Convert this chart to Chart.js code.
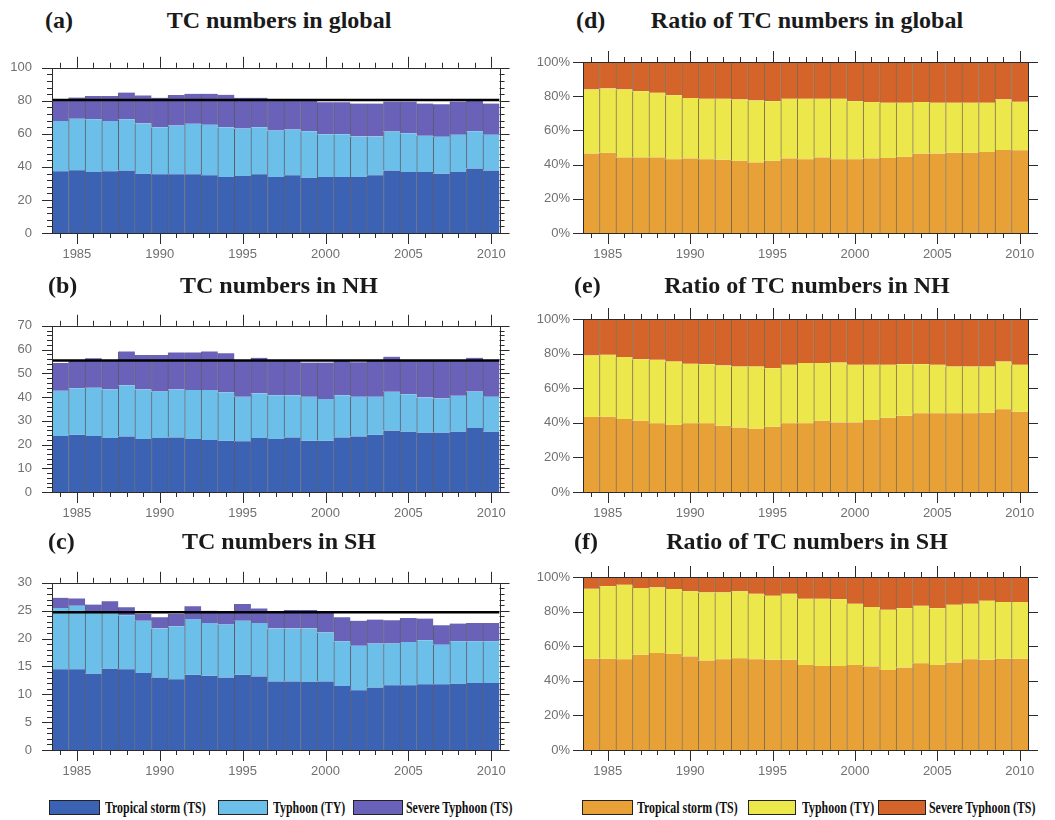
<!DOCTYPE html>
<html>
<head>
<meta charset="utf-8">
<title>TC numbers and ratios, 1984-2010</title>
<script src="https://cdn.jsdelivr.net/npm/chart.js@4.4.1/dist/chart.umd.min.js"></script>
<style>
  html, body { margin: 0; padding: 0; background: #fff; }
  #fig { position: relative; width: 1055px; height: 820px; background: #fff; overflow: hidden; }
  #fig canvas { position: absolute; }
  .tag, .ttl {
    position: absolute; z-index: 2; white-space: nowrap; color: #1a1a1a;
    font-family: 'Liberation Serif', 'Times New Roman', serif; font-weight: bold;
    font-size: 24px; line-height: 24px;
  }
  .ttl { transform: translateX(-50%); }
  .box { position: absolute; z-index: 2; height: 15px; border: 1.5px solid #222; box-sizing: border-box; }
  .lt {
    position: absolute; z-index: 2; white-space: nowrap; color: #111;
    font-family: 'Liberation Serif', 'Times New Roman', serif; font-weight: bold;
    font-size: 17px; line-height: 17px; transform-origin: 0 50%; transform: scaleX(0.7);
  }
</style>
</head>
<body>
<div id="fig">
  <canvas id="cGlobal"></canvas>
  <canvas id="cNH"></canvas>
  <canvas id="cSH"></canvas>
  <canvas id="rGlobal"></canvas>
  <canvas id="rNH"></canvas>
  <canvas id="rSH"></canvas>

  <div class="tag" style="left:45px;top:8px">(a)</div>
  <div class="ttl" style="left:279px;top:8px">TC numbers in global</div>
  <div class="tag" style="left:48px;top:273px">(b)</div>
  <div class="ttl" style="left:279px;top:273px">TC numbers in NH</div>
  <div class="tag" style="left:48px;top:529px">(c)</div>
  <div class="ttl" style="left:279px;top:529px">TC numbers in SH</div>

  <div class="tag" style="left:576px;top:8px">(d)</div>
  <div class="ttl" style="left:807px;top:8px">Ratio of TC numbers in global</div>
  <div class="tag" style="left:574px;top:273px">(e)</div>
  <div class="ttl" style="left:807px;top:273px">Ratio of TC numbers in NH</div>
  <div class="tag" style="left:574px;top:529px">(f)</div>
  <div class="ttl" style="left:807px;top:529px">Ratio of TC numbers in SH</div>

  <div id="legendCount"></div>
  <div id="legendRatio"></div>
</div>

<script>
// ---- data -------------------------------------------------------------
const years = [1984, 1985, 1986, 1987, 1988, 1989, 1990, 1991, 1992, 1993,
               1994, 1995, 1996, 1997, 1998, 1999, 2000, 2001, 2002, 2003,
               2004, 2005, 2006, 2007, 2008, 2009, 2010];

const seriesNames = ['Tropical storm (TS)', 'Typhoon (TY)', 'Severe Typhoon (TS)'];

// annual numbers, global
const tsGlobal = [37.4, 38.0, 37.0, 37.4, 37.8, 35.9, 35.5, 35.5, 35.5, 34.9, 33.9, 34.5, 35.5, 33.9,
                  35.0, 33.5, 33.9, 33.9, 33.9, 34.9, 37.8, 37.0, 37.0, 36.0, 37.0, 39.0, 37.8];
const tyGlobal = [30.4, 31.2, 31.8, 30.4, 31.0, 30.4, 28.5, 29.5, 30.6, 30.6, 30.1, 28.7, 28.5, 28.1,
                  27.6, 28.1, 25.9, 25.9, 24.5, 23.5, 23.6, 23.4, 21.8, 22.2, 22.4, 22.6, 21.6];
const stGlobal = [13.0, 12.8, 14.2, 15.2, 16.2, 17.0, 17.8, 18.5, 18.2, 18.8, 19.7, 18.6, 17.8, 18.8,
                  17.8, 18.4, 19.4, 19.4, 20.0, 20.0, 18.2, 19.2, 19.6, 19.7, 20.2, 18.5, 19.0];

// annual numbers, northern hemisphere
const tsNH = [23.6, 24.1, 23.6, 22.7, 23.4, 22.3, 22.7, 23.0, 22.3, 21.9, 21.6, 21.4, 22.7, 22.3,
              23.0, 21.6, 21.6, 23.0, 23.4, 24.1, 25.9, 25.4, 25.0, 25.0, 25.4, 27.0, 25.4];
const tyNH = [19.0, 19.6, 20.3, 20.5, 21.6, 20.9, 19.6, 20.2, 20.7, 21.1, 20.4, 18.7, 18.8, 18.5,
              17.8, 18.5, 17.6, 17.8, 16.7, 16.0, 16.3, 15.8, 14.8, 14.4, 15.1, 15.3, 14.7];
const stNH = [11.7, 11.6, 12.4, 12.2, 14.2, 14.5, 15.4, 15.6, 15.8, 16.2, 16.4, 15.1, 15.0, 14.7,
              14.5, 14.4, 15.3, 14.5, 14.5, 15.2, 14.8, 14.3, 15.5, 15.8, 14.9, 14.2, 15.5];

// annual numbers, southern hemisphere
const tsSH = [14.5, 14.5, 13.7, 14.6, 14.5, 13.8, 13.0, 12.7, 13.5, 13.3, 13.0, 13.5, 13.2, 12.3,
              12.3, 12.2, 12.3, 11.5, 10.7, 11.2, 11.6, 11.6, 11.8, 11.8, 11.9, 12.0, 12.0];
const tySH = [11.0, 11.4, 11.1, 10.2, 9.7, 9.4, 8.8, 9.5, 10.0, 9.5, 9.5, 9.7, 9.6, 9.5,
              9.5, 9.6, 8.8, 8.0, 8.0, 7.9, 7.5, 7.8, 7.9, 7.1, 7.6, 7.5, 7.5];
const stSH = [1.8, 1.3, 1.3, 1.9, 1.4, 1.2, 2.0, 2.2, 2.3, 2.2, 2.4, 3.0, 2.6, 3.0,
              3.3, 3.3, 3.8, 4.3, 4.5, 4.3, 4.2, 4.3, 3.9, 3.5, 3.2, 3.3, 3.3];

// mean total number per year (horizontal reference line)
const meanGlobal = 80.5;
const meanNH = 55.4;
const meanSH = 24.7;

// shares in percent, global
const tsGlobalPct = [46.5, 46.9, 44.2, 44.2, 44.2, 43.2, 43.6, 43.2, 42.8, 42.2, 41.3, 42.2, 43.6, 43.2,
                     44.2, 43.2, 43.2, 43.6, 43.8, 44.6, 46.5, 46.5, 46.9, 46.9, 47.3, 48.6, 48.4];
const tyGlobalPct = [37.4, 37.6, 39.7, 38.7, 37.8, 37.4, 35.4, 35.3, 35.7, 35.9, 36.2, 34.9, 34.9, 35.3,
                     34.3, 35.3, 33.9, 33.0, 32.4, 31.6, 30.1, 29.7, 29.3, 29.3, 28.9, 29.5, 28.3];
const stGlobalPct = [16.1, 15.5, 16.1, 17.1, 18.0, 19.4, 21.0, 21.5, 21.5, 21.9, 22.5, 22.9, 21.5, 21.5,
                     21.5, 21.5, 22.9, 23.4, 23.8, 23.8, 23.4, 23.8, 23.8, 23.8, 23.8, 21.9, 23.3];

// shares in percent, northern hemisphere
const tsNHPct = [43.3, 43.5, 42.2, 41.2, 39.7, 38.7, 39.7, 39.7, 38.3, 37.3, 36.6, 37.7, 39.7, 39.7,
                 41.2, 40.2, 40.2, 41.6, 42.9, 44.1, 45.5, 45.5, 45.5, 45.5, 45.8, 47.8, 46.4];
const tyNHPct = [35.6, 35.8, 35.8, 35.6, 36.7, 36.7, 34.4, 34.2, 34.8, 35.2, 35.9, 33.9, 33.8, 34.8,
                 33.3, 34.6, 33.3, 31.9, 30.6, 29.8, 28.4, 28.0, 27.0, 27.0, 26.7, 27.6, 27.1];
const stNHPct = [21.1, 20.7, 22.0, 23.2, 23.6, 24.6, 25.9, 26.1, 26.9, 27.5, 27.5, 28.4, 26.5, 25.5,
                 25.5, 25.2, 26.5, 26.5, 26.5, 26.1, 26.1, 26.5, 27.5, 27.5, 27.5, 24.6, 26.5];

// shares in percent, southern hemisphere
const tsSHPct = [52.7, 52.7, 52.5, 55.0, 56.0, 55.6, 54.1, 51.7, 52.5, 53.1, 52.5, 52.1, 52.1, 49.2,
                 48.6, 48.6, 49.2, 48.3, 46.3, 47.7, 50.2, 49.2, 50.6, 52.5, 52.1, 52.7, 52.7];
const tySHPct = [40.5, 41.9, 43.0, 38.6, 38.0, 37.4, 37.6, 39.4, 38.6, 38.6, 37.8, 37.1, 38.2, 38.2,
                 38.8, 38.6, 35.3, 34.3, 34.8, 34.3, 33.2, 32.8, 33.4, 32.0, 34.2, 32.8, 32.8];
const stSHPct = [6.8, 5.4, 4.5, 6.4, 6.0, 7.0, 8.3, 8.9, 8.9, 8.3, 9.7, 10.8, 9.7, 12.6,
                 12.6, 12.8, 15.5, 17.4, 18.9, 18.0, 16.6, 18.0, 16.0, 15.5, 13.7, 14.5, 14.5];

// y-axis tick values
const yTicksGlobal = [0, 20, 40, 60, 80, 100];
const yTicksNH = [0, 10, 20, 30, 40, 50, 60, 70];
const yTicksSH = [0, 5, 10, 15, 20, 25, 30];
const yTicksPct = [0, 20, 40, 60, 80, 100];

// ---- styling --------------------------------------------------------
const countColors = ['#3c63b3', '#6bbfe8', '#6a62b9'];
const ratioColors = ['#e8a137', '#ece84b', '#d5642b'];
const tickFont = { family: "'Liberation Sans', Arial, sans-serif", size: 13 };
const tickColor = '#707070';

// frame with outward major/minor tick marks on all four sides
const frameTicks = {
  id: 'frameTicks',
  afterDraw(chart, args, opts) {
    const { ctx, chartArea: a } = chart;
    const xs = chart.scales.x, ys = chart.scales.y;
    ctx.save();
    ctx.strokeStyle = '#2b2b2b';
    ctx.lineWidth = 1;
    ctx.beginPath();
    const seg = (x1, y1, x2, y2) => { ctx.moveTo(x1, y1); ctx.lineTo(x2, y2); };
    const per = Math.round(opts.yMajor / opts.yMinor);
    const n = Math.round((ys.max - ys.min) / opts.yMinor);
    for (let k = 0; k <= n; k++) {
      const p = Math.round(ys.getPixelForValue(ys.min + k * opts.yMinor)) + 0.5;
      const L = k % per === 0 ? 10 : 5;
      seg(a.left - L, p, a.left, p);
      seg(a.right, p, a.right + L, p);
    }
    xs.getLabels().forEach((lab, i) => {
      const p = Math.round(xs.getPixelForValue(i)) + 0.5;
      const L = (+lab) % 5 === 0 ? 11 : 5;
      seg(p, a.bottom, p, a.bottom + L);
      seg(p, a.top - L, p, a.top);
    });
    ctx.stroke();
    ctx.strokeRect(Math.round(a.left) + 0.5, Math.round(a.top) + 0.5,
                   Math.round(a.right - a.left), Math.round(a.bottom - a.top));
    ctx.restore();
  }
};

function panel(id, box, area, values, colors, edge, yTicks, yMinor, pct, mean, labelPad) {
  const cv = document.getElementById(id);
  cv.width = box.w; cv.height = box.h;
  cv.style.left = box.left + 'px'; cv.style.top = box.top + 'px';
  cv.style.width = box.w + 'px'; cv.style.height = box.h + 'px';

  const datasets = values.map((v, k) => ({
    label: seriesNames[k],
    data: v,
    backgroundColor: colors[k],
    borderColor: edge,
    borderWidth: { left: 1, right: 0, top: 0, bottom: 0 },
    borderSkipped: false,
    barPercentage: 1,
    categoryPercentage: 1,
    grouped: false,
    order: 2
  }));
  if (mean !== null) {
    datasets.push({
      type: 'line',
      label: 'mean',
      xAxisID: 'xl',
      data: [{ x: -0.5, y: mean }, { x: years.length - 0.5, y: mean }],
      borderColor: '#000',
      borderWidth: 2.5,
      pointRadius: 0,
      order: 0
    });
  }

  const yMax = yTicks[yTicks.length - 1];
  const yStep = yTicks[1] - yTicks[0];

  return new Chart(cv, {
    type: 'bar',
    data: { labels: years, datasets },
    plugins: [frameTicks],
    options: {
      responsive: false,
      animation: false,
      events: [],
      layout: { padding: { left: 0, top: area.top - box.top, right: box.left + box.w - area.right, bottom: 0 } },
      plugins: {
        legend: { display: false },
        tooltip: { enabled: false },
        frameTicks: { yMajor: yStep, yMinor: yMinor }
      },
      scales: {
        x: {
          type: 'category',
          stacked: true,
          offset: true,
          grid: { display: false, drawTicks: false },
          border: { display: false },
          ticks: {
            autoSkip: false, maxRotation: 0, minRotation: 0, padding: 14,
            font: tickFont, color: tickColor,
            callback: (v, i) => (years[i] % 5 === 0 ? String(years[i]) : '')
          },
          afterFit: s => { s.height = box.top + box.h - area.bottom; }
        },
        xl: {
          type: 'linear', display: false, offset: false,
          grid: { offset: false },
          min: -0.5, max: years.length - 0.5
        },
        y: {
          stacked: true,
          min: 0, max: yMax,
          grid: { display: false, drawTicks: false },
          border: { display: false },
          ticks: {
            stepSize: yStep, padding: labelPad,
            font: tickFont, color: tickColor,
            callback: v => (pct ? v + '%' : String(v))
          },
          afterFit: s => { s.width = area.left - box.left; }
        }
      }
    }
  });
}

const edgeCount = 'rgba(45, 45, 70, 0.75)';
const edgeRatio = 'rgba(90, 65, 30, 0.75)';

// left column: numbers
panel('cGlobal', { left: 0, top: 40, w: 520, h: 235 }, { left: 52, top: 62, right: 505, bottom: 233 },
      [tsGlobal, tyGlobal, stGlobal], countColors, edgeCount, yTicksGlobal, 4, false, meanGlobal, 20);
panel('cNH', { left: 0, top: 298, w: 520, h: 235 }, { left: 52, top: 319, right: 505, bottom: 492 },
      [tsNH, tyNH, stNH], countColors, edgeCount, yTicksNH, 2, false, meanNH, 20);
panel('cSH', { left: 0, top: 555, w: 520, h: 235 }, { left: 52, top: 577, right: 505, bottom: 750 },
      [tsSH, tySH, stSH], countColors, edgeCount, yTicksSH, 1, false, meanSH, 20);

// right column: ratios
panel('rGlobal', { left: 520, top: 40, w: 535, h: 235 }, { left: 583, top: 62, right: 1028, bottom: 233 },
      [tsGlobalPct, tyGlobalPct, stGlobalPct], ratioColors, edgeRatio, yTicksPct, 20, true, null, 13);
panel('rNH', { left: 520, top: 298, w: 535, h: 235 }, { left: 583, top: 319, right: 1028, bottom: 492 },
      [tsNHPct, tyNHPct, stNHPct], ratioColors, edgeRatio, yTicksPct, 20, true, null, 13);
panel('rSH', { left: 520, top: 555, w: 535, h: 235 }, { left: 583, top: 577, right: 1028, bottom: 750 },
      [tsSHPct, tySHPct, stSHPct], ratioColors, edgeRatio, yTicksPct, 20, true, null, 13);

// ---- legends under the bottom panels ----------------------------------
function legend(hostId, colors, items) {
  const host = document.getElementById(hostId);
  items.forEach((it, k) => {
    const b = document.createElement('div');
    b.className = 'box';
    b.style.left = it.box + 'px'; b.style.top = '800px'; b.style.width = it.w + 'px';
    b.style.background = colors[k];
    host.appendChild(b);
    const t = document.createElement('div');
    t.className = 'lt';
    t.style.left = it.text + 'px'; t.style.top = '799px';
    t.textContent = seriesNames[k];
    host.appendChild(t);
  });
}
legend('legendCount', countColors, [
  { box: 49, w: 51, text: 105 }, { box: 218, w: 50, text: 273 }, { box: 353, w: 50, text: 406 }
]);
legend('legendRatio', ratioColors, [
  { box: 582, w: 51, text: 637 }, { box: 748, w: 48, text: 802 }, { box: 878, w: 48, text: 929 }
]);
</script>
</body>
</html>
